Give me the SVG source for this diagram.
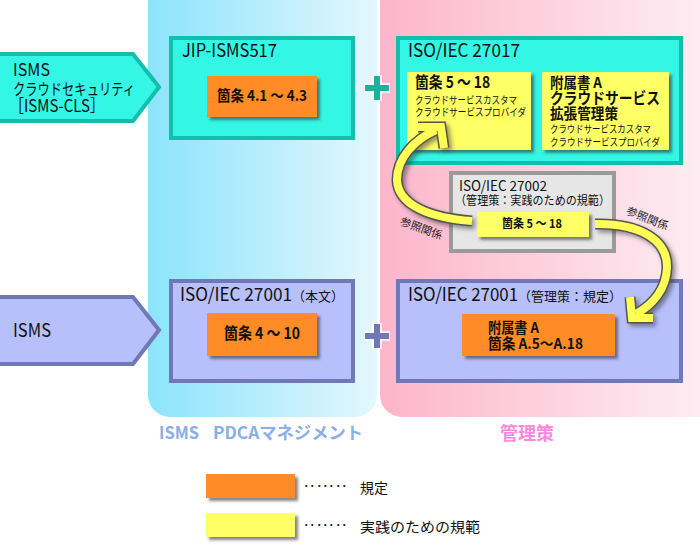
<svg xmlns="http://www.w3.org/2000/svg" width="700" height="545" viewBox="0 0 700 545">
<defs>
<linearGradient id="gBlue" x1="0" y1="0" x2="1" y2="0"><stop offset="0" stop-color="#8ce4fc"/><stop offset="1" stop-color="#e4f7fd"/></linearGradient>
<linearGradient id="gPink" x1="0" y1="0" x2="1" y2="0"><stop offset="0" stop-color="#fdb5cb"/><stop offset="1" stop-color="#fdf0f5"/></linearGradient>
<filter id="sh" x="-20%" y="-20%" width="150%" height="150%"><feDropShadow dx="3" dy="3" stdDeviation="1.5" flood-color="#333" flood-opacity="0.6"/></filter>
<filter id="sh2" x="-20%" y="-20%" width="150%" height="150%"><feDropShadow dx="3" dy="3" stdDeviation="2" flood-color="#333" flood-opacity="0.5"/></filter>
<style>
text{font-family:"Noto Sans CJK JP","Noto Sans",sans-serif;fill:#111}
.t{font-size:18px}
.b{font-weight:bold}
.s{font-size:10.5px}
.cyan{fill:#33f7e4;stroke:#14bead;stroke-width:4}
.pur{fill:#b8c0fc;stroke:#7078b8;stroke-width:4}
.org{fill:#ff8c28}
.yel{fill:#ffff66}
.gray{fill:#e6e6e6;stroke:#9a9a9a;stroke-width:4}
.out{fill:none;stroke:#555;stroke-width:11;stroke-linecap:butt;stroke-linejoin:miter}
.in{fill:none;stroke:#ffff55;stroke-width:8;stroke-linecap:butt;stroke-linejoin:miter}
.ref{font-size:11px;fill:#222}
.dots{font-size:13px;font-family:"DejaVu Sans",sans-serif;fill:#222}
</style>
</defs>
<rect width="700" height="545" fill="#fff"/>
<g id="panel-isms"><rect x="148" y="-20" width="229" height="437" rx="22" fill="url(#gBlue)"/>
<text y="439" class="b" style="font-size:17px;fill:#8aaee6"><tspan x="159" textLength="40" lengthAdjust="spacingAndGlyphs">ISMS</tspan><tspan x="213" textLength="150" lengthAdjust="spacingAndGlyphs">PDCAマネジメント</tspan></text></g>
<g id="panel-kanri"><rect x="380" y="-20" width="340" height="437" rx="22" fill="url(#gPink)"/>
<text x="527" y="440" text-anchor="middle" class="b" style="font-size:18px;fill:#ff88dd">管理策</text></g>

<g id="isms-cls"><path d="M0 54 H133 L159 87 L133 121 H0" class="cyan" stroke-width="3.5"/>
<text x="13" y="76" style="font-size:17px" textLength="37" lengthAdjust="spacingAndGlyphs">ISMS</text>
<text x="13" y="95" style="font-size:15.5px" textLength="122" lengthAdjust="spacingAndGlyphs">クラウドセキュリティ</text>
<text x="9" y="112" style="font-size:17px" textLength="96" lengthAdjust="spacingAndGlyphs">［ISMS-CLS］</text></g>

<g id="isms"><path d="M0 297 H133 L159 330 L133 364 H0" class="pur" stroke-width="3.5"/>
<text x="13" y="337" class="t" textLength="38" lengthAdjust="spacingAndGlyphs">ISMS</text></g>

<g id="jip"><rect x="171" y="38" width="182" height="100" class="cyan"/>
<text x="182" y="57" class="t" textLength="95" lengthAdjust="spacingAndGlyphs">JIP-ISMS517</text>
<rect x="207" y="76" width="110" height="41" class="org" filter="url(#sh)"/>
<text x="217" y="101" class="b" style="font-size:15px" textLength="90" lengthAdjust="spacingAndGlyphs">箇条 4.1 ～ 4.3</text></g>

<g id="iso27001-main"><rect x="171" y="281" width="182" height="100" class="pur"/>
<text x="180" y="301" class="t"><tspan textLength="112" lengthAdjust="spacingAndGlyphs">ISO/IEC 27001</tspan><tspan style="font-size:13px">（本文）</tspan></text>
<rect x="207" y="313" width="110" height="43" class="org" filter="url(#sh)"/>
<text x="224" y="339" class="b" style="font-size:16px" textLength="76" lengthAdjust="spacingAndGlyphs">箇条 4 ～ 10</text></g>

<g id="iso27017"><rect x="398" y="38" width="283" height="125" class="cyan"/>
<text x="408" y="57" class="t" textLength="112" lengthAdjust="spacingAndGlyphs">ISO/IEC 27017</text>
<rect x="407" y="72" width="124" height="78" class="yel" filter="url(#sh)"/>
<text x="415" y="88" class="b" style="font-size:16px" textLength="75" lengthAdjust="spacingAndGlyphs">箇条 5 ～ 18</text>
<text x="415" y="104" class="s" textLength="102" lengthAdjust="spacingAndGlyphs">クラウドサービスカスタマ</text>
<text x="415" y="116" class="s" textLength="111" lengthAdjust="spacingAndGlyphs">クラウドサービスプロバイダ</text>
<rect x="542" y="72" width="127" height="78" class="yel" filter="url(#sh)"/>
<text x="550" y="88" class="b" style="font-size:15px" textLength="52" lengthAdjust="spacingAndGlyphs">附属書 A</text>
<text x="550" y="103.5" class="b" style="font-size:15.5px" textLength="110" lengthAdjust="spacingAndGlyphs">クラウドサービス</text>
<text x="550" y="118.5" class="b" style="font-size:15px" textLength="68" lengthAdjust="spacingAndGlyphs">拡張管理策</text>
<text x="550" y="133" class="s" textLength="101" lengthAdjust="spacingAndGlyphs">クラウドサービスカスタマ</text>
<text x="550" y="146" class="s" textLength="110" lengthAdjust="spacingAndGlyphs">クラウドサービスプロバイダ</text></g>

<g id="iso27002"><rect x="451" y="173" width="163" height="78" class="gray"/>
<text x="459" y="191" style="font-size:14px" textLength="88" lengthAdjust="spacingAndGlyphs">ISO/IEC 27002</text>
<text x="455" y="205" style="font-size:12.5px" textLength="155" lengthAdjust="spacingAndGlyphs">（管理策：実践のための規範）</text>
<rect x="477" y="212" width="112" height="25" class="yel" filter="url(#sh)"/>
<text x="502" y="228" class="b" style="font-size:12px" textLength="60" lengthAdjust="spacingAndGlyphs">箇条 5 ～ 18</text></g>

<g id="iso27001-kanri"><rect x="398" y="281" width="283" height="100" class="pur"/>
<text x="408" y="301" class="t"><tspan textLength="110" lengthAdjust="spacingAndGlyphs">ISO/IEC 27001</tspan><tspan style="font-size:13px">（管理策：規定）</tspan></text>
<rect x="462" y="314" width="153" height="42" class="org" filter="url(#sh)"/>
<text x="488" y="333" class="b" style="font-size:14.5px" textLength="51" lengthAdjust="spacingAndGlyphs">附属書 A</text>
<text x="488" y="348.5" class="b" style="font-size:14.5px" textLength="95" lengthAdjust="spacingAndGlyphs">箇条 A.5～A.18</text></g>

<g id="plus">
<path d="M364 88 H390 M377 75 V101" stroke="#fff" stroke-width="10" fill="none" opacity="0.8"/>
<path d="M365 88 H389 M377 76 V100" stroke="#1ab3a0" stroke-width="6" fill="none"/>
<path d="M364 336 H390 M377 323 V349" stroke="#fff" stroke-width="10" fill="none" opacity="0.8"/>
<path d="M365 336 H389 M377 324 V348" stroke="#7078b8" stroke-width="6" fill="none"/>
</g>

<g id="connectors">
<g filter="url(#sh2)">
<path class="out" d="M472 221 C430 218 398 205 397 180 C397 158 414 140 436 130"/>
<path class="out" d="M418 127 H441 L444 148"/>
<path class="in" d="M472 221 C430 218 398 205 397 180 C397 158 414 140 436 130"/>
<path class="in" d="M418 127 H441 L444 148"/>
<path class="out" d="M595 224 C640 223 668 240 667 268 C666 290 652 305 636 314"/>
<path class="out" d="M630 297 L632 318 H653"/>
<path class="in" d="M595 224 C640 223 668 240 667 268 C666 290 652 305 636 314"/>
<path class="in" d="M630 297 L632 318 H653"/>
</g>
<text class="ref" transform="translate(420 232) rotate(20)" text-anchor="middle">参照関係</text>
<text class="ref" transform="translate(646 222) rotate(22)" text-anchor="middle">参照関係</text>
</g>

<g id="legend">
<rect x="206" y="474" width="89" height="24" class="org" filter="url(#sh)"/>
<text x="303" y="491" class="dots" textLength="45">･･･････</text>
<text x="360" y="493" style="font-size:14px">規定</text>
<rect x="206" y="513" width="89" height="24" class="yel" filter="url(#sh)"/>
<text x="303" y="530" class="dots" textLength="45">･･･････</text>
<text x="360" y="532" style="font-size:14px" textLength="120" lengthAdjust="spacingAndGlyphs">実践のための規範</text>
</g>
</svg>
